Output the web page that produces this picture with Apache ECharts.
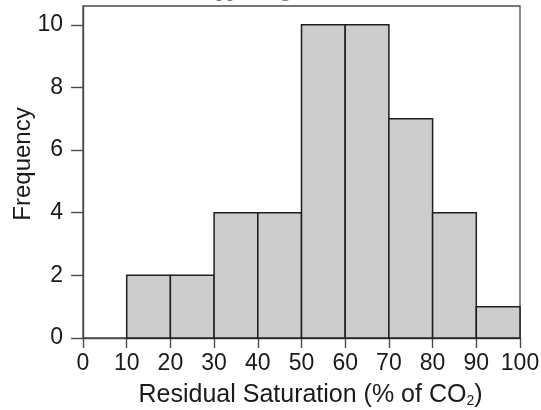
<!DOCTYPE html>
<html>
<head>
<meta charset="utf-8">
<script src="https://cdn.jsdelivr.net/npm/echarts@6/dist/echarts.min.js"></script>
<style>
  html, body { margin: 0; padding: 0; background: #fff; }
  #chart { width: 541px; height: 410px; }
</style>
</head>
<body>
<div id="chart"></div>
<script>
// Histogram bins (lower / upper edge, % of CO2) and their counts
const binStarts = [10, 20, 30, 40, 50, 60, 70, 80, 90];
const binEnds   = [20, 30, 40, 50, 60, 70, 80, 90, 100];
const counts    = [2, 2, 4, 4, 10, 10, 7, 4, 1];

const yTickValues = [0, 2, 4, 6, 8, 10];
const xTitle = 'Residual Saturation (% of CO';
const yTitle = 'Frequency';
const headerText = 'Supporting Information';

const rows = binStarts.map((s, i) => [s, binEnds[i], counts[i]]);

const chart = echarts.init(document.getElementById('chart'), null, { renderer: 'canvas' });

const axisGray = '#4a4a4a';
const tickFont = { fontFamily: 'Liberation Sans', fontSize: 23, color: '#1a1a1a' };

chart.setOption({
  animation: false,
  backgroundColor: '#ffffff',
  grid: {
    left: 83, right: 21, top: 6, bottom: 72,
    containLabel: false,
    outerBoundsMode: 'none',
    show: true, borderColor: axisGray, borderWidth: 1.3, backgroundColor: 'transparent'
  },
  graphic: [{
    type: 'text',
    left: 193, top: -21,
    style: {
      text: headerText,
      font: '22px "Liberation Serif"',
      fill: '#2e74b5'
    },
    silent: true
  }],
  xAxis: {
    type: 'value', min: 0, max: 100, interval: 10,
    splitLine: { show: false },
    axisLine: { show: true, lineStyle: { color: axisGray, width: 1.4 } },
    axisTick: { show: true, length: 10, lineStyle: { color: axisGray, width: 1.4 } },
    axisLabel: Object.assign({ margin: 14 }, tickFont),
    name: '{t|' + xTitle + '}{s|2}{t|)}',
    nameLocation: 'middle',
    nameGap: 44,
    nameMoveOverlap: false,
    nameTextStyle: {
      padding: [0, 0, 0, 18],
      rich: {
        t: { fontFamily: 'Liberation Sans', fontSize: 25, color: '#1a1a1a' },
        s: { fontFamily: 'Liberation Sans', fontSize: 14, color: '#1a1a1a', verticalAlign: 'bottom', padding: [12, 0, 0, 0] }
      }
    }
  },
  yAxis: {
    type: 'value', min: 0, max: 10.6,
    splitLine: { show: false },
    axisLine: { show: true, lineStyle: { color: axisGray, width: 1.4 } },
    axisTick: { show: true, length: 12, customValues: yTickValues, lineStyle: { color: axisGray, width: 1.4 } },
    axisLabel: Object.assign({ margin: 20, customValues: yTickValues }, tickFont),
    name: yTitle,
    nameLocation: 'middle',
    nameRotate: 90,
    nameGap: 48,
    nameMoveOverlap: false,
    nameTextStyle: { fontFamily: 'Liberation Sans', fontSize: 24, color: '#1a1a1a', padding: [0, 0, 0, 16] }
  },
  series: [{
    type: 'custom',
    data: rows,
    encode: { x: [0, 1], y: 2 },
    renderItem: function (params, api) {
      const p0 = api.coord([api.value(0), api.value(2)]);
      const p1 = api.coord([api.value(1), 0]);
      return {
        type: 'rect',
        shape: { x: p0[0], y: p0[1], width: p1[0] - p0[0], height: p1[1] - p0[1] },
        style: { fill: '#cdcdcd', stroke: '#1e1e1e', lineWidth: 1.5 }
      };
    }
  }]
});
</script>
</body>
</html>
